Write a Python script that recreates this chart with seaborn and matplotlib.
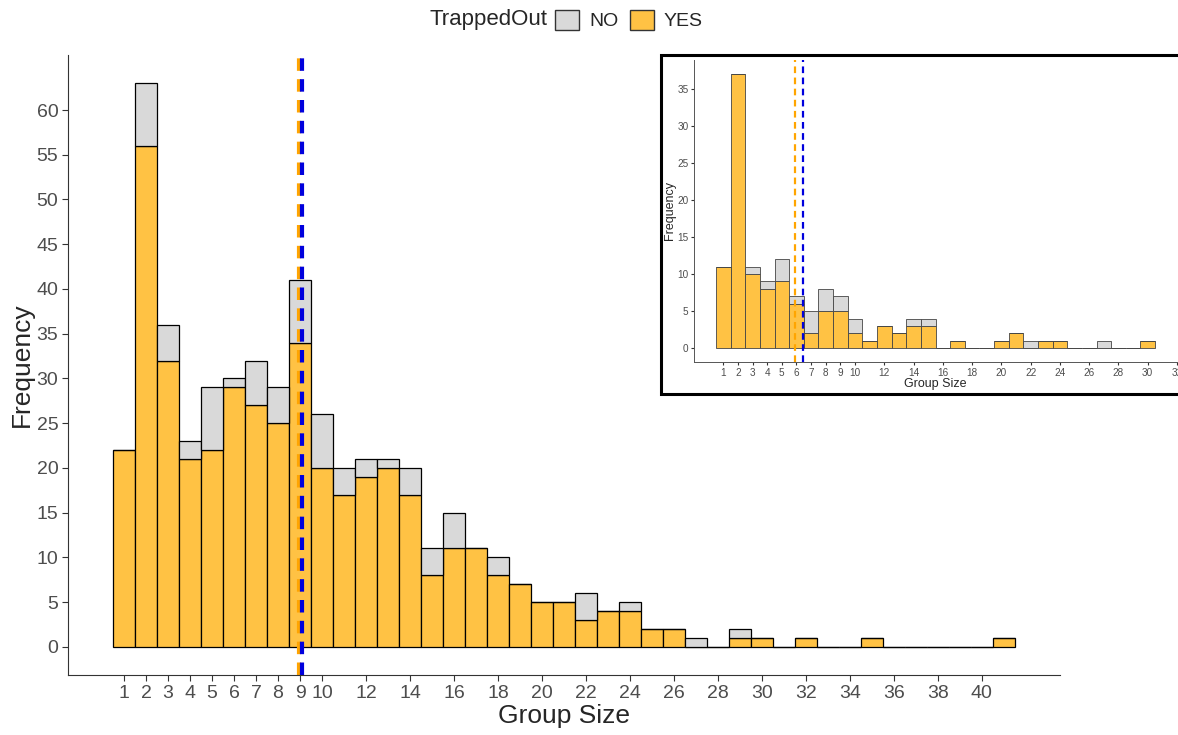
import numpy as np
import pandas as pd
import matplotlib
matplotlib.use("Agg")
import matplotlib.pyplot as plt
import matplotlib.patches as mpatches
import seaborn as sns

# Main histogram: counts per group size (1..41)
group_size = list(range(1, 42))
yes_main = [22, 56, 32, 21, 22, 29, 27, 25, 34, 20,
            17, 19, 20, 17, 8, 11, 11, 8, 7, 5,
            5, 3, 4, 4, 2, 2, 0, 0, 1, 1,
            0, 1, 0, 0, 1, 0, 0, 0, 0, 0, 1]
no_main = [0, 7, 4, 2, 7, 1, 5, 4, 7, 6,
           3, 2, 1, 3, 3, 4, 0, 2, 0, 0,
           0, 3, 0, 1, 0, 0, 1, 0, 1, 0,
           0, 0, 0, 0, 0, 0, 0, 0, 0, 0, 0]
mean_yes_main = 8.97
mean_no_main = 9.11

# Inset histogram: counts per group size (1..30)
group_size_inset = list(range(1, 31))
yes_inset = [11, 37, 10, 8, 9, 6, 2, 5, 5, 2,
             1, 3, 2, 3, 3, 0, 1, 0, 0, 1,
             2, 0, 1, 1, 0, 0, 0, 0, 0, 1]
no_inset = [0, 0, 1, 1, 3, 1, 3, 3, 2, 2,
            0, 0, 0, 1, 1, 0, 0, 0, 0, 0,
            0, 1, 0, 0, 0, 0, 1, 0, 0, 0]
mean_yes_inset = 5.89
mean_no_inset = 6.43

main_ticks = list(range(1, 11)) + list(range(12, 41, 2))
inset_ticks = list(range(1, 11)) + list(range(12, 33, 2))

col_yes = "#FFC244"
col_no = "#D9D9D9"
palette = {"NO": col_no, "YES": col_yes}


def make_frame(sizes, yes, no):
    return pd.DataFrame({
        "size": sizes * 2,
        "count": list(yes) + list(no),
        "TrappedOut": ["YES"] * len(sizes) + ["NO"] * len(sizes),
    })


def draw_hist(ax, df, lw, ec):
    sns.histplot(data=df, x="size", weights="count", hue="TrappedOut",
                 hue_order=["NO", "YES"], multiple="stack", discrete=True,
                 palette=palette, alpha=1, edgecolor=ec, linewidth=lw,
                 legend=False, ax=ax)


sns.set_style("ticks")
plt.rcParams["font.family"] = ["Liberation Sans", "DejaVu Sans"]

fig = plt.figure(figsize=(11.78, 7.35), dpi=100)
W, H = 1178, 735

# main axes
ax = fig.add_axes([68 / W, (H - 675) / H, (1060 - 68) / W, (675 - 55) / H])
draw_hist(ax, make_frame(group_size, yes_main, no_main), 0.9, "black")
ax.axvline(mean_yes_main, color="orange", ls=(0, (3, 2)), lw=3)
ax.axvline(mean_no_main, color="#0000DD", ls=(0, (3, 2)), lw=3)
ax.set_xlim(-1.55, 43.55)
ax.set_ylim(-3.15, 66.15)
ax.set_xticks(main_ticks)
ax.set_yticks(range(0, 61, 5))
ax.tick_params(labelsize=14, labelcolor="#4D4D4D", color="#333333", length=4, pad=3)
ax.set_xlabel("Group Size", fontsize=19, labelpad=2)
ax.set_ylabel("Frequency", fontsize=19, labelpad=2)
for s in ["top", "right"]:
    ax.spines[s].set_visible(False)
for s in ["left", "bottom"]:
    ax.spines[s].set_color("#333333")

# legend on top
fig.text(548 / W, 1 - 20 / H, "TrappedOut", ha="right", va="center", fontsize=16)
handles = [mpatches.Patch(facecolor=col_no, edgecolor="#333333", label="NO"),
           mpatches.Patch(facecolor=col_yes, edgecolor="#333333", label="YES")]
fig.legend(handles=handles, loc="center left", bbox_to_anchor=(555 / W, 1 - 20 / H),
           ncol=2, frameon=False, fontsize=14, handlelength=1.25, handleheight=1.25,
           handletextpad=0.5, columnspacing=0.6, borderaxespad=0, borderpad=0)

# inset box
box = mpatches.Rectangle((661 / W, (H - 394) / H), (1180 - 661) / W, (394 - 55) / H,
                         transform=fig.transFigure, facecolor="white",
                         edgecolor="black", lw=2.2, zorder=5)
fig.add_artist(box)

axi = fig.add_axes([694 / W, (H - 362) / H, (1177 - 694) / W, (362 - 60) / H])
axi.set_zorder(6)
draw_hist(axi, make_frame(group_size_inset, yes_inset, no_inset), 0.6, "#444444")
axi.axvline(mean_yes_inset, color="orange", ls=(0, (3, 2)), lw=1.6)
axi.axvline(mean_no_inset, color="#0000DD", ls=(0, (3, 2)), lw=1.6)
axi.set_xlim(-1, 32)
axi.set_ylim(-1.85, 38.85)
axi.set_xticks(inset_ticks)
axi.set_yticks(range(0, 36, 5))
axi.tick_params(labelsize=7.2, labelcolor="#4D4D4D", color="#333333", length=2, pad=2)
axi.set_xlabel("Group Size", fontsize=9, labelpad=0)
axi.set_ylabel("Frequency", fontsize=9, labelpad=1)
for s in ["top", "right"]:
    axi.spines[s].set_visible(False)
for s in ["left", "bottom"]:
    axi.spines[s].set_color("#555555")
    axi.spines[s].set_linewidth(0.7)

fig.savefig("out.png", dpi=100)
